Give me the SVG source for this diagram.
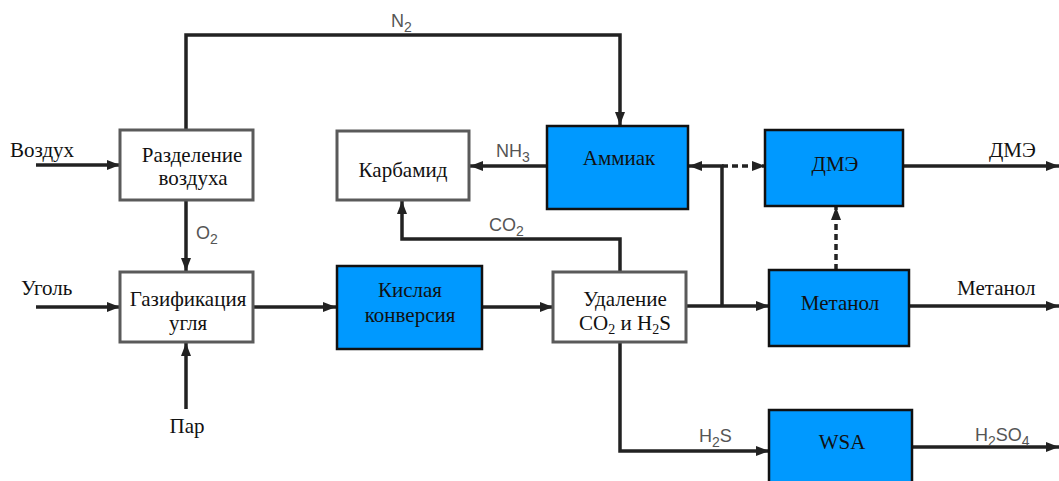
<svg xmlns="http://www.w3.org/2000/svg" width="1059" height="481" viewBox="0 0 1059 481">
<style>
.wbox{fill:#fff;stroke:#5a5a5a;stroke-width:3}
.bbox{fill:#0099ff;stroke:#111;stroke-width:2.5}
.t{font-family:"Liberation Serif","Times New Roman",serif;font-size:21px;fill:#111;text-anchor:middle}
.tl{font-family:"Liberation Serif","Times New Roman",serif;font-size:21px;fill:#111}
.c{font-family:"Liberation Sans",Arial,sans-serif;font-size:18px;fill:#555}
.s{font-size:14px}
.ss{font-size:14px}
.ln{fill:none;stroke:#222;stroke-width:3.5;marker-end:url(#ah)}
.dash{stroke-dasharray:6 4}
</style>
<defs>
<marker id="ah" markerUnits="userSpaceOnUse" markerWidth="14" markerHeight="12" refX="13" refY="6" orient="auto">
<path d="M0,1 L13,6 L0,11 Z" fill="#222"/>
</marker>
</defs>
<rect width="1059" height="481" fill="#fff"/>
<g id="connectors">
<path class="ln" d="M36,165 H120"/>
<path class="ln" d="M186,130 V35 H620 V125"/>
<path class="ln" d="M186,200 V271"/>
<path class="ln" d="M36,307 H120"/>
<path class="ln" d="M186,409 V343"/>
<path class="ln" d="M253,307 H336"/>
<path class="ln" d="M482,307 H553"/>
<path class="ln" d="M686,306 H769"/>
<path class="ln" d="M722,306 V166 H689"/>
<path class="ln dash" d="M722,166 H765"/>
<path class="ln" d="M547,166 H470"/>
<path class="ln" d="M620,272 V239 H402 V201"/>
<path class="ln" d="M903,166 H1059"/>
<path class="ln dash" d="M836,270 V207"/>
<path class="ln" d="M909,306 H1059"/>
<path class="ln" d="M620,342 V451 H769"/>
<path class="ln" d="M912,447 H1059"/>
<text class="c" x="391" y="27">N<tspan class="s" dy="5">2</tspan></text>
<text class="c" x="196" y="239">O<tspan class="s" dy="5">2</tspan></text>
<text class="c" x="496" y="157">NH<tspan class="s" dy="5">3</tspan></text>
<text class="c" x="489" y="231">CO<tspan class="s" dy="5">2</tspan></text>
<text class="c" x="699" y="442">H<tspan class="s" dy="5">2</tspan><tspan dy="-5">S</tspan></text>
<text class="c" x="975" y="441">H<tspan class="s" dy="5">2</tspan><tspan dy="-5">SO</tspan><tspan class="s" dy="5">4</tspan></text>
<text class="tl" x="10" y="157">Воздух</text>
<text class="tl" x="21" y="295">Уголь</text>
<text class="t" x="187" y="433">Пар</text>
<text class="tl" x="989" y="157">ДМЭ</text>
<text class="tl" x="957" y="295">Метанол</text>
</g>
<g id="air-separation">
<rect class="wbox" x="120" y="130" width="133" height="70"/>
<text class="t" x="192" y="162">Разделение</text>
<text class="t" x="193" y="185">воздуха</text>
</g>
<g id="gasification">
<rect class="wbox" x="120" y="272" width="133" height="70"/>
<text class="t" x="188" y="306">Газификация</text>
<text class="t" x="188" y="330">угля</text>
</g>
<g id="sour-shift">
<rect class="bbox" x="337" y="266" width="145" height="83"/>
<text class="t" x="410" y="297">Кислая</text>
<text class="t" x="410" y="322">конверсия</text>
</g>
<g id="removal">
<rect class="wbox" x="553" y="272" width="133" height="70"/>
<text class="t" x="625" y="306">Удаление</text>
<text class="t" x="625" y="330">CO<tspan class="ss" dy="4">2</tspan><tspan dy="-4"> и H</tspan><tspan class="ss" dy="4">2</tspan><tspan dy="-4">S</tspan></text>
</g>
<g id="urea">
<rect class="wbox" x="337" y="131" width="132" height="69"/>
<text class="t" x="403" y="177">Карбамид</text>
</g>
<g id="ammonia">
<rect class="bbox" x="547" y="126" width="141" height="83"/>
<text class="t" x="619" y="165">Аммиак</text>
</g>
<g id="dme">
<rect class="bbox" x="765" y="130" width="138" height="76"/>
<text class="t" x="835" y="171">ДМЭ</text>
</g>
<g id="methanol">
<rect class="bbox" x="769" y="270" width="140" height="76"/>
<text class="t" x="840" y="310">Метанол</text>
</g>
<g id="wsa">
<rect class="bbox" x="769" y="410" width="143" height="80"/>
<text class="t" x="842" y="449">WSA</text>
</g>
</svg>
